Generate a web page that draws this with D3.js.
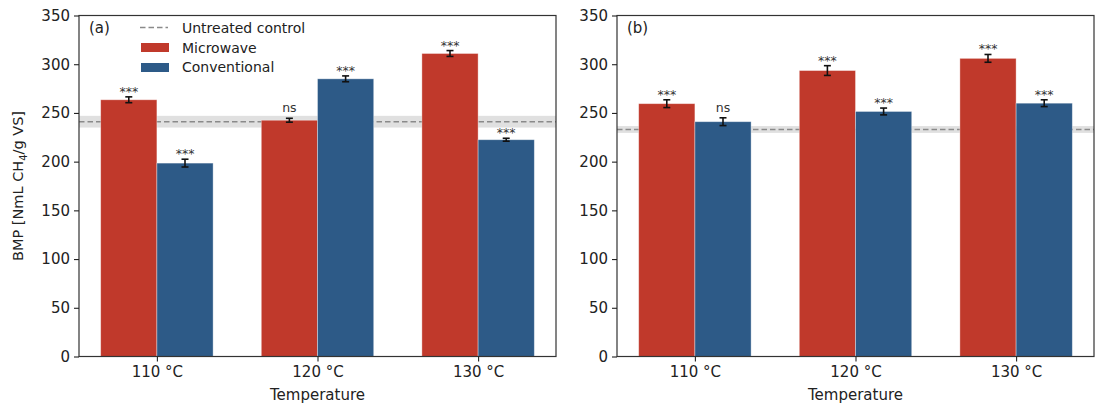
<!DOCTYPE html>
<html>
<head>
  <meta charset="utf-8">
  <title>BMP by pretreatment temperature</title>
  <style>
    body { margin: 0; background: #fff; }
    svg { font-family: "DejaVu Sans", sans-serif; }
  </style>
</head>
<body>
  <div id="chart"></div>
  <script src="https://d3js.org/d3.v7.min.js"></script>
  <script>
    var temps = ["110 °C", "120 °C", "130 °C"];
    var yTicks = [0, 50, 100, 150, 200, 250, 300, 350];

    // panel (a)
    var mwA = [263.5, 242.5, 311];
    var mwErrA = [3, 2, 3];
    var convA = [198.5, 285, 222.5];
    var convErrA = [4, 3, 1.5];
    var mwSigA = ["***", "ns", "***"];
    var convSigA = ["***", "***", "***"];
    var controlA = 241;
    var controlErrA = 6;

    // panel (b)
    var mwB = [259.5, 293.5, 306];
    var mwErrB = [4, 5, 4];
    var convB = [241, 251.5, 260];
    var convErrB = [4, 3.5, 3.5];
    var mwSigB = ["***", "***", "***"];
    var convSigB = ["ns", "***", "***"];
    var controlB = 233;
    var controlErrB = 3.5;

    var red = "#c0392b", blue = "#2d5a87";
    var width = 1107, height = 416;
    var plotTop = 15.5, plotBottom = 356.5;

    var svg = d3.select("#chart").append("svg")
        .attr("width", width)
        .attr("height", height);

    var y = d3.scaleLinear().domain([0, 350]).range([plotBottom, plotTop]);

    function styleAxis(a) {
      a.select(".domain").remove();
      a.attr("font-family", "DejaVu Sans, sans-serif").attr("font-size", 15);
      a.selectAll(".tick text").attr("fill", "#222");
      a.selectAll(".tick line").attr("stroke", "#222").attr("stroke-width", 1.1);
    }

    function panel(left, right, label, mw, mwErr, conv, convErr, mwSig, convSig, ctrl, ctrlErr, showLegend) {
      var x = d3.scaleLinear().domain([-0.485, 2.485]).range([left, right]);
      var w = 0.35;
      var g = svg.append("g");

      // untreated control band + dashed line (under the bars)
      g.append("rect")
          .attr("x", left).attr("width", right - left)
          .attr("y", y(ctrl + ctrlErr))
          .attr("height", y(ctrl - ctrlErr) - y(ctrl + ctrlErr))
          .attr("fill", "#d6d6d6").attr("opacity", 0.75);
      g.append("line")
          .attr("x1", left).attr("x2", right)
          .attr("y1", y(ctrl)).attr("y2", y(ctrl))
          .attr("stroke", "#8a8a8a").attr("stroke-width", 1.6)
          .attr("stroke-dasharray", "5.5,3");

      var series = [
        {vals: mw, err: mwErr, sig: mwSig, off: -w / 2, color: red},
        {vals: conv, err: convErr, sig: convSig, off: w / 2, color: blue}
      ];

      series.forEach(function(s) {
        var rows = s.vals.map(function(v, i) { return {i: i, v: v, e: s.err[i], sig: s.sig[i]}; });

        g.selectAll(null).data(rows).enter().append("rect")
            .attr("x", function(d) { return x(d.i + s.off - w / 2); })
            .attr("width", x(w) - x(0))
            .attr("y", function(d) { return y(d.v); })
            .attr("height", function(d) { return y(0) - y(d.v); })
            .attr("fill", s.color)
            .attr("stroke", "#ffffff").attr("stroke-opacity", 0.45).attr("stroke-width", 0.8);

        var eb = g.selectAll(null).data(rows).enter().append("g")
            .attr("stroke", "#111").attr("stroke-width", 1.6);
        eb.append("line")
            .attr("x1", function(d) { return x(d.i + s.off); })
            .attr("x2", function(d) { return x(d.i + s.off); })
            .attr("y1", function(d) { return y(d.v - d.e); })
            .attr("y2", function(d) { return y(d.v + d.e); });
        [1, -1].forEach(function(sign) {
          eb.append("line")
              .attr("x1", function(d) { return x(d.i + s.off) - 3.5; })
              .attr("x2", function(d) { return x(d.i + s.off) + 3.5; })
              .attr("y1", function(d) { return y(d.v + sign * d.e); })
              .attr("y2", function(d) { return y(d.v + sign * d.e); });
        });

        g.selectAll(null).data(rows).enter().append("text")
            .attr("x", function(d) { return x(d.i + s.off); })
            .attr("y", function(d) { return y(d.v + d.e) - (d.sig === "ns" ? 6 : 1); })
            .attr("text-anchor", "middle")
            .attr("font-size", 12.5)
            .attr("fill", "#333")
            .text(function(d) { return d.sig; });
      });

      // frame
      g.append("rect")
          .attr("x", left).attr("y", plotTop)
          .attr("width", right - left).attr("height", plotBottom - plotTop)
          .attr("fill", "none").attr("stroke", "#333").attr("stroke-width", 1.2);

      g.append("g")
          .attr("transform", "translate(" + left + ",0)")
          .call(d3.axisLeft(y).tickValues(yTicks).tickSize(5).tickPadding(4))
          .call(styleAxis);

      g.append("g")
          .attr("transform", "translate(0," + plotBottom + ")")
          .call(d3.axisBottom(x).tickValues([0, 1, 2]).tickFormat(function(d) { return temps[d]; })
              .tickSize(5).tickPadding(5))
          .call(styleAxis);

      g.append("text")
          .attr("x", (left + right) / 2).attr("y", 400)
          .attr("text-anchor", "middle").attr("font-size", 15).attr("fill", "#222")
          .text("Temperature");

      g.append("text")
          .attr("x", left + 10).attr("y", 33)
          .attr("font-size", 15).attr("fill", "#222")
          .text(label);

      if (showLegend) {
        var lg = g.append("g").attr("font-size", 14).attr("fill", "#222");
        lg.append("line")
            .attr("x1", left + 61).attr("x2", left + 89)
            .attr("y1", 27.5).attr("y2", 27.5)
            .attr("stroke", "#8a8a8a").attr("stroke-width", 1.6)
            .attr("stroke-dasharray", "5.5,3");
        lg.append("text").attr("x", left + 103).attr("y", 33).text("Untreated control");
        lg.append("rect").attr("x", left + 62).attr("y", 43).attr("width", 28).attr("height", 9).attr("fill", red);
        lg.append("text").attr("x", left + 103).attr("y", 53).text("Microwave");
        lg.append("rect").attr("x", left + 62).attr("y", 63).attr("width", 28).attr("height", 9).attr("fill", blue);
        lg.append("text").attr("x", left + 103).attr("y", 72).text("Conventional");
      }
    }

    panel(79, 556, "(a)", mwA, mwErrA, convA, convErrA, mwSigA, convSigA, controlA, controlErrA, true);
    panel(617, 1094, "(b)", mwB, mwErrB, convB, convErrB, mwSigB, convSigB, controlB, controlErrB, false);

    // y label with subscript
    var yl = svg.append("text")
        .attr("transform", "translate(23," + (plotTop + plotBottom) / 2 + ") rotate(-90)")
        .attr("text-anchor", "middle").attr("font-size", 14.5).attr("fill", "#222");
    yl.append("tspan").text("BMP [NmL CH");
    yl.append("tspan").attr("font-size", 10).attr("dy", 4).text("4");
    yl.append("tspan").attr("dy", -4).text("/g VS]");
  </script>
</body>
</html>
